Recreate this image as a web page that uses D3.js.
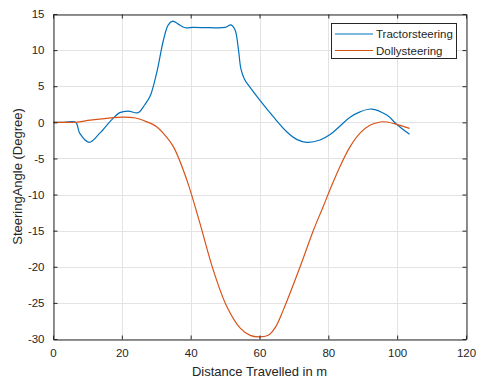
<!DOCTYPE html>
<html>
<head>
    <meta charset="utf-8">
    <script src="https://cdn.jsdelivr.net/npm/d3@7"></script>
    <style>
        body { margin: 0; background: #fff; }
        text { font-family: "Liberation Sans", Arial, sans-serif; fill: #262626; }
    </style>
</head>
<body>
    <div id="viz"></div>
    <script type="text/javascript">

    // distance travelled (m) and steering angle (deg)
    var tractorX = [0, 3.3, 6.6, 7.75, 10.5, 13.6, 16.95, 19.4, 21.8, 24.7, 26.6, 28.2, 30.1, 32.1, 33.5, 34.8, 36.4, 38.4, 40.8, 45.6, 50.0, 51.7, 52.9, 53.9, 54.6, 55.6, 57, 60.2, 64, 67.9, 70.8, 73.7, 77.6, 80.5, 83.4, 86.3, 89.2, 92.6, 97, 99.9, 103.6];
    var tractorY = [0, 0, 0, -1.5, -2.77, -1.5, 0.3, 1.34, 1.56, 1.33, 2.4, 3.6, 6.8, 11.4, 13.5, 14.0, 13.6, 13.1, 13.15, 13.1, 13.15, 13.5, 12.8, 10.0, 7.4, 6.0, 5.0, 3.0, 0.78, -1.3, -2.36, -2.77, -2.45, -1.7, -0.5, 0.7, 1.45, 1.84, 1.0, -0.3, -1.66];

    var dollyX = [0, 3.3, 6.6, 10.8, 15, 20.4, 24, 27.1, 30.1, 32, 35, 38.9, 42.7, 46.6, 50.5, 54.4, 57.3, 60.3, 62.8, 64.6, 66.9, 71.8, 75.7, 78.4, 80.5, 83.4, 86.3, 89.2, 92.2, 95.1, 97, 99.9, 103.6];
    var dollyY = [0, 0, 0, 0.3, 0.52, 0.72, 0.6, 0.1, -0.6, -1.5, -3.4, -8.0, -14.0, -20.5, -25.5, -28.5, -29.5, -29.7, -29.4, -28.4, -26.0, -20.0, -14.9, -11.8, -9.3, -6.1, -3.4, -1.5, -0.37, 0.05, 0.05, -0.28, -0.83];

    var xTicks = [0, 20, 40, 60, 80, 100, 120];
    var yTicks = [-30, -25, -20, -15, -10, -5, 0, 5, 10, 15];
    var seriesNames = ["Tractorsteering", "Dollysteering"];
    var colors = ["#0072BD", "#D95319"];

    var W = 478, H = 381;
    var mLeft = 53, mRight = 466, mTop = 14, mBottom = 339;

    var x = d3.scaleLinear().domain([0, 120]).range([mLeft, mRight]);
    var y = d3.scaleLinear().domain([-30, 15]).range([mBottom, mTop]);

    var svg = d3.select("#viz").append("svg")
        .attr("width", W)
        .attr("height", H);

    // grid
    svg.append("g").selectAll("line").data(xTicks).enter().append("line")
        .attr("x1", function(d){ return Math.round(x(d)) + 0.5; })
        .attr("x2", function(d){ return Math.round(x(d)) + 0.5; })
        .attr("y1", mTop).attr("y2", mBottom)
        .style("stroke", "#e3e3e3");
    svg.append("g").selectAll("line").data(yTicks).enter().append("line")
        .attr("y1", function(d){ return Math.round(y(d)) + 0.5; })
        .attr("y2", function(d){ return Math.round(y(d)) + 0.5; })
        .attr("x1", mLeft).attr("x2", mRight)
        .style("stroke", "#e3e3e3");

    var line = d3.line()
        .x(function(d){ return x(d[0]); })
        .y(function(d){ return y(d[1]); })
        .curve(d3.curveCatmullRom.alpha(0.5));

    var series = [
        d3.zip(tractorX, tractorY),
        d3.zip(dollyX, dollyY)
    ];

    svg.append("g").selectAll("path").data(series).enter().append("path")
        .attr("d", line)
        .style("fill", "none")
        .style("stroke", function(d, i){ return colors[i]; })
        .style("stroke-width", 1.2);

    // axes, ticks inside on all four sides (box on)
    var axisCol = "#262626";
    var fmt = function(d){ return String(d); };
    var bottomAxis = d3.axisBottom(x).tickValues(xTicks).tickSizeInner(-4).tickSizeOuter(0).tickPadding(9).tickFormat(fmt);
    var topAxis = d3.axisTop(x).tickValues(xTicks).tickSizeInner(-4).tickSizeOuter(0).tickFormat("");
    var leftAxis = d3.axisLeft(y).tickValues(yTicks).tickSizeInner(-4).tickSizeOuter(0).tickPadding(9).tickFormat(fmt);
    var rightAxis = d3.axisRight(y).tickValues(yTicks).tickSizeInner(-4).tickSizeOuter(0).tickFormat("");

    function style(g) {
        g.selectAll("path").style("stroke", axisCol);
        g.selectAll("line").style("stroke", axisCol);
        g.selectAll("text").style("font-size", "11.5px").style("fill", "#262626")
            .style("font-family", "'Liberation Sans', Arial, sans-serif");
    }

    svg.append("g").attr("transform", "translate(0," + (mBottom + 0.5) + ")").call(bottomAxis).call(style);
    svg.append("g").attr("transform", "translate(0," + (mTop + 0.5) + ")").call(topAxis).call(style);
    svg.append("g").attr("transform", "translate(" + (mLeft + 0.5) + ",0)").call(leftAxis).call(style);
    svg.append("g").attr("transform", "translate(" + (mRight + 0.5) + ",0)").call(rightAxis).call(style);

    // axis titles
    svg.append("text")
        .attr("x", (mLeft + mRight) / 2)
        .attr("y", 376)
        .attr("text-anchor", "middle")
        .style("font-size", "13px")
        .text("Distance Travelled in m");

    svg.append("text")
        .attr("transform", "translate(22," + ((mTop + mBottom) / 2) + ") rotate(-90)")
        .attr("text-anchor", "middle")
        .style("font-size", "13px")
        .text("SteeringAngle (Degree)");

    // legend
    var lg = svg.append("g");
    lg.append("rect")
        .attr("x", 331.5).attr("y", 23.5)
        .attr("width", 125).attr("height", 35)
        .style("fill", "#fff")
        .style("stroke", axisCol);

    seriesNames.forEach(function(name, i) {
        var yy = 34 + i * 16.5;
        lg.append("line")
            .attr("x1", 335).attr("x2", 373)
            .attr("y1", yy).attr("y2", yy)
            .style("stroke", colors[i])
            .style("stroke-width", 1.2);
        lg.append("text")
            .attr("x", 376).attr("y", yy + 4)
            .style("font-size", "11.5px")
            .text(name);
    });

    </script>
</body>
</html>
